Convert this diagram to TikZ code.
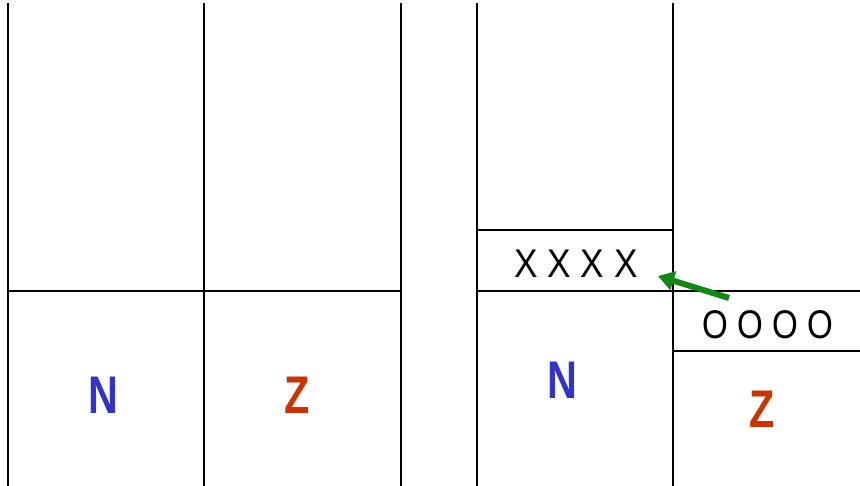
\documentclass[tikz,border=0pt]{standalone}
\usepackage{fontspec}
\setmainfont{Liberation Sans}
\usetikzlibrary{arrows.meta}
\definecolor{nblue}{HTML}{3333CC}
\definecolor{zred}{HTML}{CC3300}
\definecolor{agreen}{HTML}{118811}
\begin{document}
\begin{tikzpicture}[x=1pt,y=-1pt,
  wall/.style={line width=1.6pt,black},
  marks/.style={font=\fontsize{40}{42}\selectfont,xscale=0.88,inner sep=0pt},
  big/.style={font=\fontsize{53}{55}\selectfont\bfseries,xscale=0.78,inner sep=0pt},
  push/.style={line width=6pt,agreen,-{Triangle[length=16pt,width=19pt]}}]
\useasboundingbox (0,0) rectangle (860,486);
% left panel
\draw[wall] (8,3) -- (8,486);
\draw[wall] (204,3) -- (204,486);
\draw[wall] (401,3) -- (401,486);
\draw[wall] (8,291) -- (401,291);
\node[big,text=nblue] (n1) at (103,395) {N};
\node[big,text=zred] (z1) at (297,395) {Z};
% right panel
\draw[wall] (477,3) -- (477,486);
\draw[wall] (673,3) -- (673,486);
\draw[wall] (477,230) -- (673,230);
\draw[wall] (477,291) -- (860,291);
\draw[wall] (673,351) -- (860,351);
\node[marks] (xs) at (576,264) {X X X X};
\node[marks,xscale=0.94] (os) at (768,325) {O O O O};
\node[big,text=nblue] (n2) at (562,380) {N};
\node[big,text=zred] (z2) at (762,409) {Z};
\coordinate (from) at (729,298);
\coordinate (to) at (658,276);
\draw[push] (from) -- (to);
\end{tikzpicture}
\end{document}
